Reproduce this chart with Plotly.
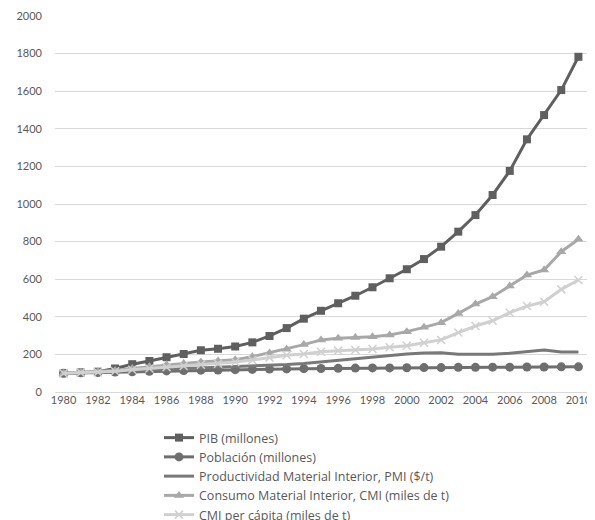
import plotly.graph_objects as go

years = list(range(1980, 2011))
year_labels = [str(y) for y in years]

pib = [100, 104, 108, 125, 148, 165, 185, 202, 222, 230, 242, 264, 298, 340, 390, 432,
       472, 512, 557, 605, 653, 707, 773, 853, 941, 1048, 1176, 1344, 1473, 1606, 1783]
poblacion = [100, 102, 104, 106, 108, 110, 112, 114, 116, 117, 119, 120, 122, 123, 124, 125,
             126, 127, 128, 128, 129, 130, 130, 131, 131, 132, 132, 133, 133, 134, 134]
pmi = [100, 104, 108, 112, 116, 120, 124, 127, 130, 132, 135, 138, 142, 146, 152, 161,
       170, 179, 188, 195, 202, 207, 209, 201, 200, 201, 206, 214, 223, 213, 213]
cmi = [100, 105, 108, 115, 125, 135, 145, 152, 160, 165, 172, 188, 208, 228, 252, 277,
       286, 290, 294, 303, 321, 344, 369, 418, 468, 507, 564, 622, 649, 746, 812]
cmi_pc = [100, 103, 105, 110, 118, 125, 132, 138, 145, 150, 160, 170, 183, 195, 202, 214,
          220, 223, 229, 238, 246, 262, 277, 316, 351, 379, 422, 457, 480, 546, 596]

names = ["PIB (millones)", "Población (millones)",
         "Productividad Material Interior, PMI ($/t)",
         "Consumo Material Interior, CMI (miles de t)",
         "CMI per cápita (miles de t)"]

W, H = 587, 512  # page body adds an 8px margin

fig = go.Figure()
fig.add_trace(go.Scatter(x=year_labels, y=pib, name=names[0], mode="lines+markers",
                         line=dict(color="#5f5f5f", width=3),
                         marker=dict(symbol="square", size=8, color="#5f5f5f")))
fig.add_trace(go.Scatter(x=year_labels, y=poblacion, name=names[1], mode="lines+markers",
                         line=dict(color="#6e6e6e", width=3),
                         marker=dict(symbol="circle", size=9, color="#6e6e6e")))
fig.add_trace(go.Scatter(x=year_labels, y=pmi, name=names[2], mode="lines",
                         line=dict(color="#787878", width=3)))
fig.add_trace(go.Scatter(x=year_labels, y=cmi, name=names[3], mode="lines+markers",
                         line=dict(color="#a8a8a8", width=3),
                         marker=dict(symbol="triangle-up", size=9, color="#a8a8a8")))
fig.add_trace(go.Scatter(x=year_labels, y=cmi_pc, name=names[4], mode="lines+markers",
                         line=dict(color="#d0d0d0", width=3),
                         marker=dict(symbol="x-thin", size=8, color="#d0d0d0",
                                     line=dict(color="#d0d0d0", width=1.5))))

fig.update_layout(
    width=W, height=H,
    margin=dict(l=47, r=8, t=8, b=128, autoexpand=False),
    paper_bgcolor="white", plot_bgcolor="white",
    font=dict(family="Lato, Carlito, sans-serif", size=11, color="#595959"),
    showlegend=True,
    legend=dict(x=151 / W, y=(H - 415) / H, xref="container", yref="container",
                xanchor="left", yanchor="top",
                orientation="v", font=dict(family="Open Sans", size=12.5, color="#595959"),
                bgcolor="rgba(0,0,0,0)", tracegroupgap=0),
    xaxis=dict(type="category", range=[-0.5, 30.5], tickmode="array",
               tickvals=year_labels[::2], ticktext=year_labels[::2],
               showgrid=False, showline=False, zeroline=False,
               ticks="", tickfont=dict(size=11, color="#595959")),
    yaxis=dict(range=[0, 2000], dtick=200, showgrid=True, gridcolor="#d9d9d9",
               gridwidth=1, zeroline=True, zerolinecolor="#d9d9d9", zerolinewidth=1,
               showline=False, ticks="", ticklabelstandoff=12,
               tickfont=dict(size=11, color="#595959")),
)

fig.write_html("out.html")
